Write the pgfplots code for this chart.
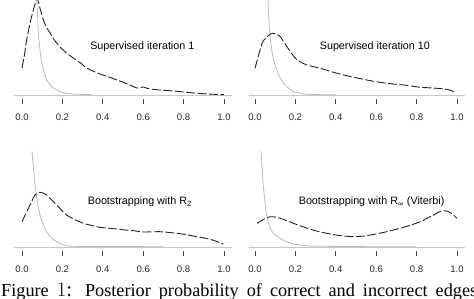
\documentclass[border=0pt]{standalone}
\usepackage{fontspec}
\setmainfont{Liberation Serif}
\setsansfont{Liberation Sans}
\usepackage{pgfplots}
\pgfplotsset{compat=1.18}
\definecolor{dens}{HTML}{222222}
\definecolor{inc}{HTML}{BBBBBB}
\definecolor{base}{HTML}{C8C8C8}
\definecolor{tickc}{HTML}{444444}
\tikzset{lab/.style={anchor=base west, inner sep=0pt, font=\fontsize{10.8}{12}\sffamily}}
\pgfplotsset{
  panel/.style={
    anchor=origin, x=202bp, y=1bp,
    xmin=-0.04, xmax=1.04, ymin=-4, ymax=95,
    axis line style={draw=none},
    ytick=\empty,
    xtick={0,0.2,0.4,0.6,0.8,1.0},
    xticklabels={0.0,0.2,0.4,0.6,0.8,1.0},
    xtick pos=lower, tick align=outside,
    major tick length=5bp,
    tick style={draw=tickc, line width=0.7bp},
    xticklabel style={font=\fontsize{9.6}{11}\sffamily, text=black!85, yshift=-6.5bp},
    clip=true,
  },
  dashcurve/.style={color=dens, line width=0.9bp, dash pattern=on 9bp off 2.5bp, smooth, tension=0.4},
  graycurve/.style={color=inc, line width=0.8bp},
  basel/.style={color=base, line width=0.8bp},
}
\begin{document}
\begin{tikzpicture}
\path[use as bounding box] (0bp,0bp) rectangle (474bp,299bp);
% Panel 1
\begin{axis}[panel, at={(22bp,204bp)}]
\addplot[basel] coordinates {(-0.04,0) (1.04,0)};
\addplot[graycurve] coordinates {(0.068,200)(0.073,95)(0.077,80)(0.081,62)(0.089,45)(0.097,32)(0.11,22)(0.122,15)(0.14,10)(0.155,7)(0.18,4)(0.205,2.3)(0.25,1)(0.3,0.5)(0.35,0.3)};
\addplot[dashcurve] coordinates {(0,27)(0.012,40)(0.023,55)(0.04,72)(0.056,85)(0.066,92)(0.073,97)(0.08,94)(0.09,86)(0.106,75)(0.12,68)(0.139,62)(0.16,55)(0.188,48)(0.22,42)(0.254,37)(0.29,32)(0.32,27)(0.35,24)(0.386,21)(0.43,18)(0.47,15)(0.51,12)(0.54,9.5)(0.568,7)(0.585,7.5)(0.6,8)(0.615,7)(0.634,6)(0.68,5)(0.716,4.5)(0.76,3.8)(0.8,3)(0.84,2.2)(0.88,1.5)(0.94,0.8)(1.0,0.3)};
\node[lab] at (axis cs:0.337,45) {Supervised iteration 1};
\end{axis}
% Panel 2
\begin{axis}[panel, at={(255bp,204bp)}, xmin=-0.03]
\addplot[basel] coordinates {(-0.03,0) (1.04,0)};
\addplot[graycurve] coordinates {(0.06,200)(0.064,95)(0.068,78)(0.072,65)(0.076,55)(0.084,44)(0.092,35)(0.105,27)(0.117,20)(0.133,14)(0.15,10)(0.17,6)(0.19,3.3)(0.24,1)(0.3,0.4)(0.4,0.2)};
\addplot[dashcurve] coordinates {(0,26.7)(0.035,51.7)(0.055,57)(0.076,61)(0.092,61.7)(0.11,60.5)(0.125,58.3)(0.14,54)(0.158,48.3)(0.18,42)(0.2,36.7)(0.23,32.5)(0.257,30)(0.29,28.3)(0.323,26.7)(0.36,24.5)(0.406,21.7)(0.45,19.5)(0.488,17.7)(0.53,16)(0.571,14.3)(0.61,13)(0.653,11.7)(0.7,10.7)(0.736,10)(0.78,8.8)(0.818,7.7)(0.86,7.2)(0.9,6.7)(0.95,5.7)(0.975,4)(0.99,2.3)};
\node[lab] at (axis cs:0.32,45) {Supervised iteration 10};
\end{axis}
% Panel 3
\begin{axis}[panel, at={(22bp,52bp)}]
\addplot[basel] coordinates {(-0.04,0) (1.04,0)};
\addplot[graycurve] coordinates {(0.045,200)(0.05,95)(0.057,78)(0.064,63.7)(0.073,48.7)(0.08,40)(0.089,32)(0.1,25)(0.11,20)(0.122,15.3)(0.145,9)(0.172,5.3)(0.2,2.5)(0.221,1)(0.3,0.5)(0.5,0.4)(0.7,0.3)};
\addplot[dashcurve] coordinates {(0,25.3)(0.02,34)(0.04,42)(0.064,52)(0.089,54.7)(0.105,54)(0.122,52)(0.14,48.5)(0.163,43.7)(0.19,38)(0.221,32)(0.26,27.5)(0.304,23.7)(0.345,21.5)(0.386,19.7)(0.43,18.8)(0.469,18)(0.51,17)(0.551,16.3)(0.6,15)(0.64,15.2)(0.683,15.3)(0.72,14.7)(0.766,13.7)(0.81,12.5)(0.848,11)(0.89,9.5)(0.931,7.7)(0.965,5.5)(0.997,3)};
\node[lab] at (axis cs:0.325,42) {Bootstrapping with R\textsubscript{2}};
\end{axis}
% Panel 4
\begin{axis}[panel, at={(255bp,52bp)}, xmin=-0.03]
\addplot[basel] coordinates {(-0.03,0) (1.04,0)};
\addplot[graycurve] coordinates {(0.025,200)(0.03,95)(0.036,76)(0.043,57)(0.05,44)(0.056,33.7)(0.065,25)(0.076,18.7)(0.09,14)(0.105,11)(0.125,8.7)(0.15,5.5)(0.19,3)(0.27,1)(0.4,0.5)(0.6,0.3)(0.8,0.2)};
\addplot[dashcurve] coordinates {(0.01,23.7)(0.043,27.7)(0.06,29.5)(0.076,30.3)(0.1,30)(0.125,28.7)(0.155,26.5)(0.19,23.7)(0.23,20.8)(0.274,17.7)(0.315,15.5)(0.356,13.7)(0.4,12)(0.44,11)(0.488,10.3)(0.53,10.8)(0.571,12)(0.61,13.5)(0.653,15.3)(0.695,17.5)(0.736,19.7)(0.78,22.5)(0.818,25.3)(0.85,28.5)(0.884,32)(0.91,35)(0.933,36.3)(0.95,36)(0.967,34.3)(0.985,31.5)(1.0,28.7)};
\node[lab] at (axis cs:0.216,42) {Bootstrapping with R\textsubscript{∞} (Viterbi)};
\end{axis}
\node[anchor=base west, inner sep=0pt] at (1bp,3bp) {\fontsize{18.3}{20}\selectfont\makebox[476bp][s]{Figure {\fontsize{21}{22}\selectfont$1$:} Posterior probability of correct and incorrect edges}};
\end{tikzpicture}
\end{document}
